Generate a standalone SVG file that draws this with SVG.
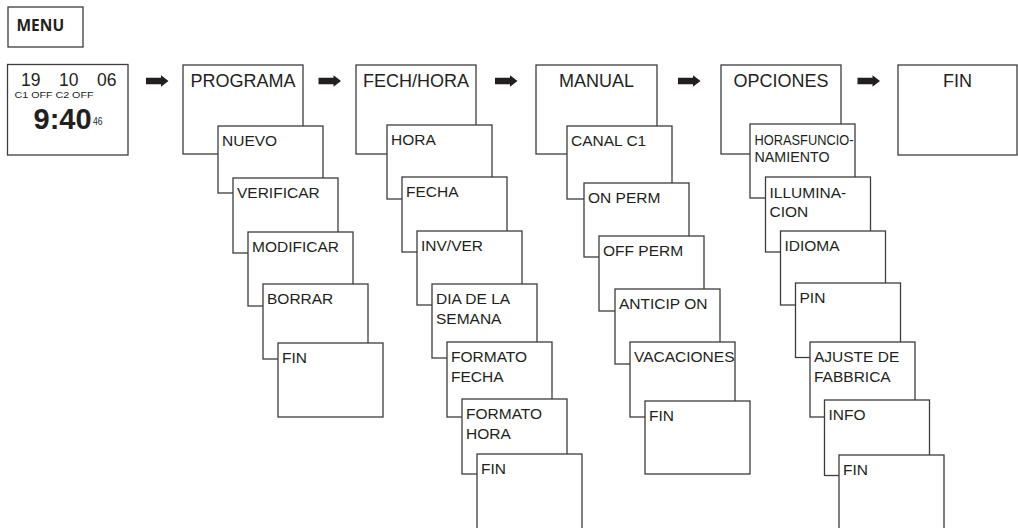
<svg xmlns="http://www.w3.org/2000/svg" width="1018" height="528" viewBox="0 0 1018 528">
  <style>
    .box { fill: #ffffff; stroke: #3d3d3d; stroke-width: 1.3; }
    .title { font-family: "Liberation Sans", Arial, sans-serif; font-size: 18px; fill: #231f20; text-anchor: middle; }
    .lbl { font-family: "Liberation Sans", Arial, sans-serif; font-size: 15.5px; fill: #231f20; }
    .clk { font-family: "Liberation Sans", Arial, sans-serif; fill: #231f20; }
    .menu { font-family: "Open Sans", "Liberation Sans", sans-serif; font-weight: 700; font-size: 15.5px; fill: #231f20; }
    .arrow { fill: #231f20; }
  </style>
  <defs>
    <path id="fat-arrow" class="arrow" d="M0,-3.3 H15 V-5.8 L22.5,0 L15,5.8 V3.3 H0 Z"/>
  </defs>

  <rect width="1018" height="528" fill="#ffffff"/>

  <!-- MENU key -->
  <g id="menu">
    <rect class="box" x="8" y="7" width="75" height="40"/>
    <text class="menu" x="16.5" y="30.5">MENU</text>
  </g>

  <!-- standby display -->
  <g id="display">
    <rect class="box" x="7.5" y="64.5" width="120.5" height="90.5"/>
    <text class="clk" font-size="17.5" x="21" y="86">19</text>
    <text class="clk" font-size="17.5" x="59" y="86">10</text>
    <text class="clk" font-size="17.5" x="97" y="86">06</text>
    <text class="clk" font-size="9" x="14.5" y="98" textLength="79" lengthAdjust="spacingAndGlyphs">C1 OFF C2 OFF</text>
    <text class="clk" font-size="29" font-weight="700" x="33.5" y="129">9:40</text>
    <text class="clk" font-size="10.5" x="93" y="124.5" textLength="9.5" lengthAdjust="spacingAndGlyphs">46</text>
  </g>

  <!-- connectors between the top-level menus -->
  <g id="connectors">
    <use href="#fat-arrow" x="146" y="81"/>
    <use href="#fat-arrow" x="318.5" y="81"/>
    <use href="#fat-arrow" x="495" y="81"/>
    <use href="#fat-arrow" x="678" y="81"/>
    <use href="#fat-arrow" x="857.5" y="81"/>
  </g>

  <!-- PROGRAMA menu -->
  <g id="programa">
    <rect class="box" x="183" y="65" width="120" height="89"/>
    <text class="title" x="243" y="87">PROGRAMA</text>
  </g>
  <g id="programa-nuevo">
    <rect class="box" x="218" y="126" width="105" height="67"/>
    <text class="lbl" x="222" y="146">NUEVO</text>
  </g>
  <g id="programa-verificar">
    <rect class="box" x="233" y="178" width="105" height="75"/>
    <text class="lbl" x="237" y="198">VERIFICAR</text>
  </g>
  <g id="programa-modificar">
    <rect class="box" x="248" y="232" width="105" height="74"/>
    <text class="lbl" x="252" y="252">MODIFICAR</text>
  </g>
  <g id="programa-borrar">
    <rect class="box" x="263" y="284" width="105" height="75"/>
    <text class="lbl" x="267" y="304">BORRAR</text>
  </g>
  <g id="programa-fin">
    <rect class="box" x="278" y="343" width="105" height="74"/>
    <text class="lbl" x="282" y="363">FIN</text>
  </g>

  <!-- FECH/HORA menu -->
  <g id="fechhora">
    <rect class="box" x="356" y="65" width="120" height="89"/>
    <text class="title" x="416" y="87">FECH/HORA</text>
  </g>
  <g id="fechhora-hora">
    <rect class="box" x="387" y="125" width="105" height="74"/>
    <text class="lbl" x="391" y="145">HORA</text>
  </g>
  <g id="fechhora-fecha">
    <rect class="box" x="402" y="177" width="105" height="75"/>
    <text class="lbl" x="406" y="197">FECHA</text>
  </g>
  <g id="fechhora-invver">
    <rect class="box" x="417" y="231" width="105" height="74"/>
    <text class="lbl" x="421" y="251">INV/VER</text>
  </g>
  <g id="fechhora-dia">
    <rect class="box" x="432" y="284" width="105" height="74"/>
    <text class="lbl" x="436" y="304">DIA DE LA</text>
    <text class="lbl" x="436" y="323.5">SEMANA</text>
  </g>
  <g id="fechhora-formato-fecha">
    <rect class="box" x="447" y="342" width="105" height="75"/>
    <text class="lbl" x="451" y="362">FORMATO</text>
    <text class="lbl" x="451" y="381.5">FECHA</text>
  </g>
  <g id="fechhora-formato-hora">
    <rect class="box" x="462" y="399" width="105" height="75"/>
    <text class="lbl" x="466" y="419">FORMATO</text>
    <text class="lbl" x="466" y="438.5">HORA</text>
  </g>
  <g id="fechhora-fin">
    <rect class="box" x="477" y="454" width="105" height="80"/>
    <text class="lbl" x="481" y="474">FIN</text>
  </g>

  <!-- MANUAL menu -->
  <g id="manual">
    <rect class="box" x="536" y="65" width="121" height="89"/>
    <text class="title" x="596.5" y="87">MANUAL</text>
  </g>
  <g id="manual-canal">
    <rect class="box" x="567" y="126" width="105" height="73"/>
    <text class="lbl" x="571" y="146">CANAL C1</text>
  </g>
  <g id="manual-on">
    <rect class="box" x="584" y="183" width="105" height="74"/>
    <text class="lbl" x="588" y="203">ON PERM</text>
  </g>
  <g id="manual-off">
    <rect class="box" x="599" y="236" width="105" height="75"/>
    <text class="lbl" x="603" y="256">OFF PERM</text>
  </g>
  <g id="manual-anticip">
    <rect class="box" x="615" y="289" width="105" height="75"/>
    <text class="lbl" x="619" y="309">ANTICIP ON</text>
  </g>
  <g id="manual-vacaciones">
    <rect class="box" x="630" y="342" width="105" height="75"/>
    <text class="lbl" x="634" y="362">VACACIONES</text>
  </g>
  <g id="manual-fin">
    <rect class="box" x="645" y="401" width="105" height="73"/>
    <text class="lbl" x="649" y="421">FIN</text>
  </g>

  <!-- OPCIONES menu -->
  <g id="opciones">
    <rect class="box" x="721" y="65" width="120" height="89"/>
    <text class="title" x="781" y="87">OPCIONES</text>
  </g>
  <g id="opciones-horas">
    <rect class="box" x="750" y="124" width="105" height="74"/>
    <text class="lbl" x="754.5" y="145" textLength="99" lengthAdjust="spacingAndGlyphs">HORASFUNCIO-</text>
    <text class="lbl" x="754.5" y="161.5" textLength="75" lengthAdjust="spacingAndGlyphs">NAMIENTO</text>
  </g>
  <g id="opciones-iluminacion">
    <rect class="box" x="765.5" y="177" width="105" height="75"/>
    <text class="lbl" x="769.5" y="197.5">ILLUMINA-</text>
    <text class="lbl" x="769.5" y="216.5">CION</text>
  </g>
  <g id="opciones-idioma">
    <rect class="box" x="780.5" y="231" width="105" height="74"/>
    <text class="lbl" x="784.5" y="251">IDIOMA</text>
  </g>
  <g id="opciones-pin">
    <rect class="box" x="795.5" y="283" width="105" height="74.5"/>
    <text class="lbl" x="799.5" y="303">PIN</text>
  </g>
  <g id="opciones-ajuste">
    <rect class="box" x="810" y="342" width="105" height="75"/>
    <text class="lbl" x="814" y="362">AJUSTE DE</text>
    <text class="lbl" x="814" y="381.5">FABBRICA</text>
  </g>
  <g id="opciones-info">
    <rect class="box" x="824.5" y="400" width="105" height="75.5"/>
    <text class="lbl" x="828.5" y="420">INFO</text>
  </g>
  <g id="opciones-fin">
    <rect class="box" x="839" y="455" width="105" height="80"/>
    <text class="lbl" x="843" y="475">FIN</text>
  </g>

  <!-- final FIN screen -->
  <g id="fin">
    <rect class="box" x="898" y="65" width="119" height="90"/>
    <text class="title" x="957.5" y="87">FIN</text>
  </g>
</svg>
